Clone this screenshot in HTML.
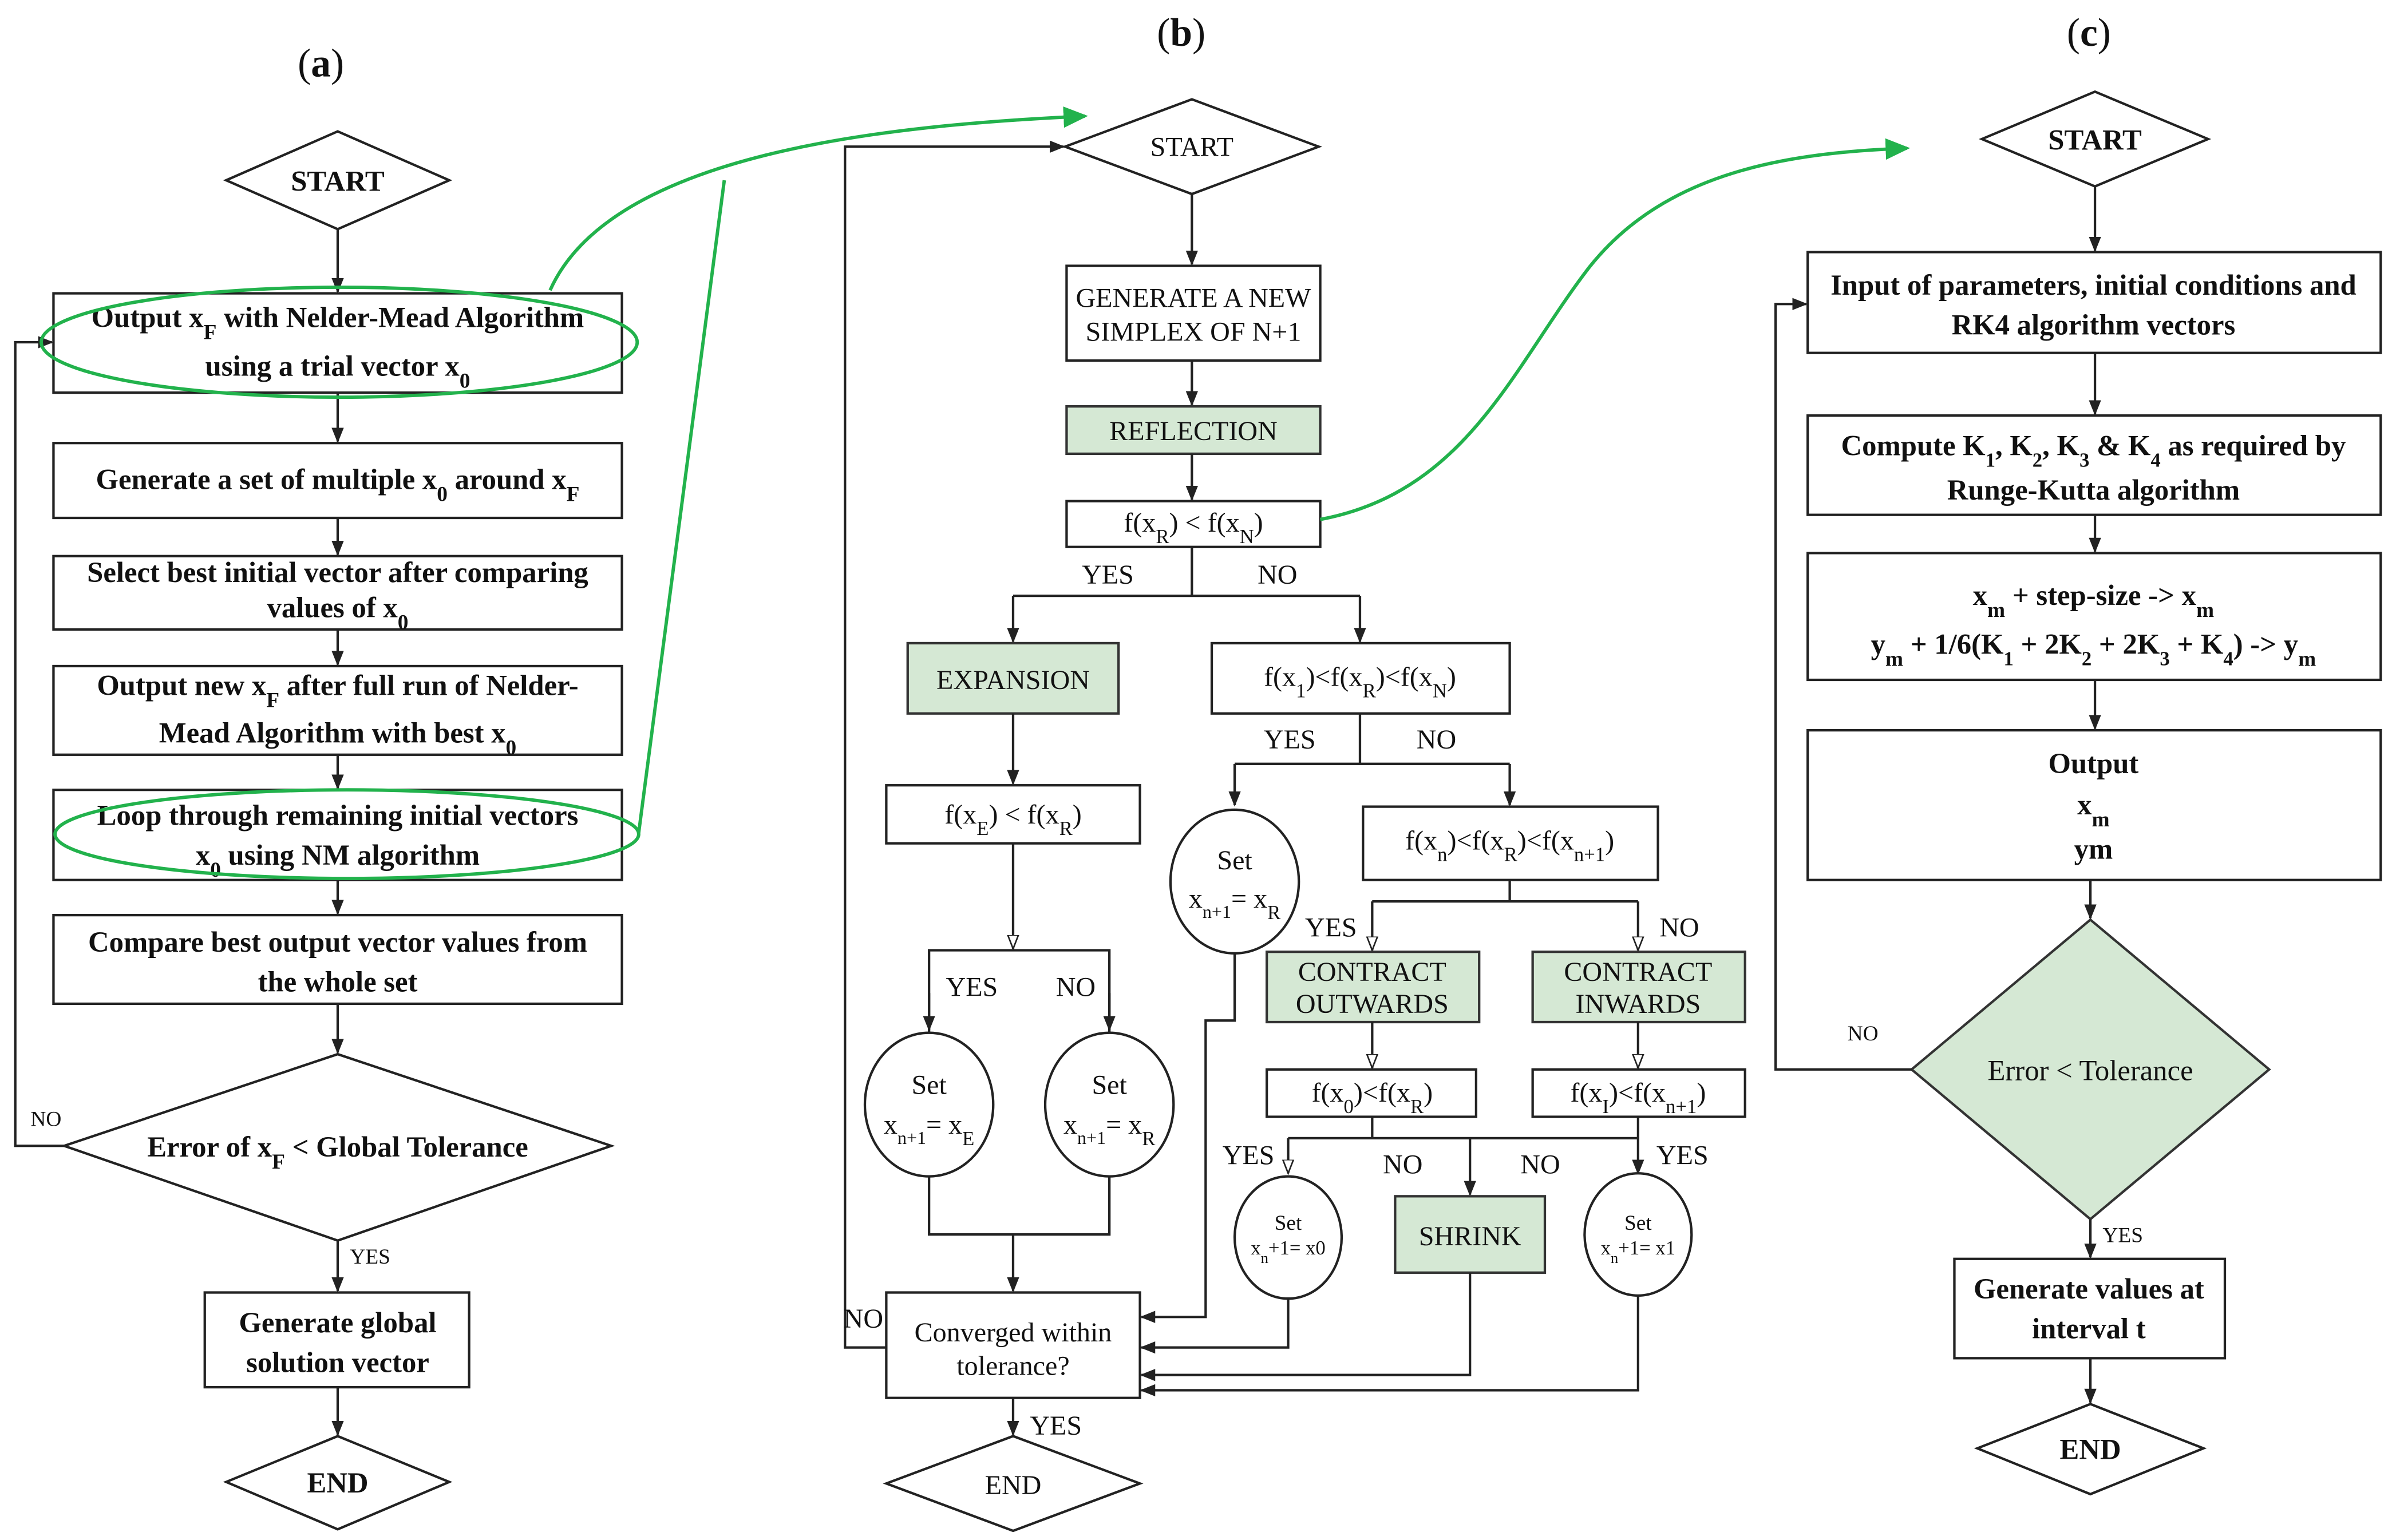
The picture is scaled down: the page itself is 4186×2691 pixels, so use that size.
<!DOCTYPE html>
<html><head><meta charset="utf-8"><style>
html,body{margin:0;padding:0;background:#fff;}
svg{display:block;}
text{font-family:"Liberation Serif",serif;fill:#111;}
.a text{font-weight:bold;font-size:19px;}
.b text{font-size:18px;}
.c text{font-weight:bold;font-size:19px;}
.box{fill:#fff;stroke:#222;stroke-width:1.6;}
.g{fill:#d5e8d4;stroke:#333;stroke-width:1.6;}
.ln{fill:none;stroke:#222;stroke-width:1.6;}
.gr{fill:none;stroke:#22b24c;stroke-width:2.2;}
</style></head><body>
<svg width="4186" height="2691" viewBox="0 0 1568 1008" preserveAspectRatio="none" xmlns="http://www.w3.org/2000/svg">
<defs>
<marker id="ar" markerWidth="10" markerHeight="10" refX="9" refY="5" orient="auto" markerUnits="userSpaceOnUse"><path d="M0,1 L10,5 L0,9 z" fill="#222"/></marker>
<marker id="ho" markerWidth="10" markerHeight="10" refX="9" refY="5" orient="auto" markerUnits="userSpaceOnUse"><path d="M0,1.5 L9,5 L0,8.5 z" fill="#fff" stroke="#222" stroke-width="1"/></marker>
<marker id="ga" markerWidth="16" markerHeight="16" refX="14" refY="8" orient="auto" markerUnits="userSpaceOnUse"><path d="M0,1 L16,8 L0,15 z" fill="#22b24c"/></marker>
</defs>

<!-- Panel a -->
<g class="a">
<text x="210" y="50" text-anchor="middle" style="font-size:26px;font-weight:normal">(<tspan font-weight="bold">a</tspan>)</text>
<polygon class="box" points="148,118 221,86 294,118 221,150"/>
<text x="221" y="125" text-anchor="middle">START</text>
<line class="ln" x1="221" y1="150" x2="221" y2="191" marker-end="url(#ar)"/>
<rect class="box" x="35" y="192" width="372" height="65"/>
<text x="221" y="214" text-anchor="middle">Output x<tspan baseline-shift="sub" font-size="14">F</tspan> with Nelder-Mead Algorithm</text>
<text x="221" y="246" text-anchor="middle">using a trial vector x<tspan baseline-shift="sub" font-size="14">0</tspan></text>
<line class="ln" x1="221" y1="257" x2="221" y2="289" marker-end="url(#ar)"/>
<rect class="box" x="35" y="290" width="372" height="49"/>
<text x="221" y="320" text-anchor="middle">Generate a set of multiple x<tspan baseline-shift="sub" font-size="14">0</tspan> around x<tspan baseline-shift="sub" font-size="14">F</tspan></text>
<line class="ln" x1="221" y1="339" x2="221" y2="363" marker-end="url(#ar)"/>
<rect class="box" x="35" y="364" width="372" height="48"/>
<text x="221" y="381" text-anchor="middle">Select best initial vector after comparing</text>
<text x="221" y="404" text-anchor="middle">values of x<tspan baseline-shift="sub" font-size="14">0</tspan></text>
<line class="ln" x1="221" y1="412" x2="221" y2="435" marker-end="url(#ar)"/>
<rect class="box" x="35" y="436" width="372" height="58"/>
<text x="221" y="455" text-anchor="middle">Output new x<tspan baseline-shift="sub" font-size="14">F</tspan> after full run of Nelder-</text>
<text x="221" y="486" text-anchor="middle">Mead Algorithm with best x<tspan baseline-shift="sub" font-size="14">0</tspan></text>
<line class="ln" x1="221" y1="494" x2="221" y2="516" marker-end="url(#ar)"/>
<rect class="box" x="35" y="517" width="372" height="59"/>
<text x="221" y="540" text-anchor="middle">Loop through remaining initial vectors</text>
<text x="221" y="566" text-anchor="middle">x<tspan baseline-shift="sub" font-size="14">0</tspan> using NM algorithm</text>
<line class="ln" x1="221" y1="576" x2="221" y2="598" marker-end="url(#ar)"/>
<rect class="box" x="35" y="599" width="372" height="58"/>
<text x="221" y="623" text-anchor="middle">Compare best output vector values  from</text>
<text x="221" y="649" text-anchor="middle">the whole set</text>
<line class="ln" x1="221" y1="657" x2="221" y2="689" marker-end="url(#ar)"/>
<polygon class="box" points="42,750 221,690 400,750 221,812"/>
<text x="221" y="757" text-anchor="middle">Error of x<tspan baseline-shift="sub" font-size="14">F</tspan> &lt;  Global Tolerance</text>
<polyline class="ln" points="42,750 10,750 10,224 34,224" marker-end="url(#ar)"/>
<text x="20" y="737" style="font-size:14px;font-weight:normal">NO</text>
<line class="ln" x1="221" y1="812" x2="221" y2="845" marker-end="url(#ar)"/>
<text x="229" y="827" style="font-size:14px;font-weight:normal">YES</text>
<rect class="box" x="134" y="846" width="173" height="62"/>
<text x="221" y="872" text-anchor="middle">Generate global</text>
<text x="221" y="898" text-anchor="middle">solution vector</text>
<line class="ln" x1="221" y1="908" x2="221" y2="939" marker-end="url(#ar)"/>
<polygon class="box" points="148,970 221,940 294,970 221,1001"/>
<text x="221" y="977" text-anchor="middle">END</text>
<ellipse class="gr" cx="222" cy="224" rx="195" ry="36"/>
<ellipse class="gr" cx="227" cy="546" rx="191" ry="29"/>
<path class="gr" d="M360,190 C400,100 580,82 710,76" marker-end="url(#ga)"/>
<line class="gr" x1="418" y1="545" x2="474" y2="118"/>
</g>

<!-- Panel b -->
<g class="b">
<text x="773" y="30" text-anchor="middle" style="font-size:26px">(<tspan font-weight="bold">b</tspan>)</text>
<polygon class="box" points="697,96 780,65 863,96 780,127"/>
<text x="780" y="102" text-anchor="middle">START</text>
<line class="ln" x1="780" y1="127" x2="780" y2="173" marker-end="url(#ar)"/>
<rect class="box" x="698" y="174" width="166" height="62"/>
<text x="781" y="201" text-anchor="middle">GENERATE A NEW</text>
<text x="781" y="223" text-anchor="middle">SIMPLEX OF N+1</text>
<line class="ln" x1="780" y1="236" x2="780" y2="265" marker-end="url(#ar)"/>
<rect class="g" x="698" y="266" width="166" height="31"/>
<text x="781" y="288" text-anchor="middle">REFLECTION</text>
<line class="ln" x1="780" y1="297" x2="780" y2="327" marker-end="url(#ar)"/>
<rect class="box" x="698" y="328" width="166" height="30"/>
<text x="781" y="348" text-anchor="middle">f(x<tspan baseline-shift="sub" font-size="13">R</tspan>) &lt; f(x<tspan baseline-shift="sub" font-size="13">N</tspan>)</text>
<polyline class="ln" points="780,358 780,390"/>
<line class="ln" x1="663" y1="390" x2="890" y2="390"/>
<line class="ln" x1="663" y1="390" x2="663" y2="420" marker-end="url(#ar)"/>
<line class="ln" x1="890" y1="390" x2="890" y2="420" marker-end="url(#ar)"/>
<text x="708" y="382">YES</text><text x="823" y="382">NO</text>
<rect class="g" x="594" y="421" width="138" height="46"/>
<text x="663" y="451" text-anchor="middle">EXPANSION</text>
<rect class="box" x="793" y="421" width="195" height="46"/>
<text x="890" y="449" text-anchor="middle">f(x<tspan baseline-shift="sub" font-size="13">1</tspan>)&lt;f(x<tspan baseline-shift="sub" font-size="13">R</tspan>)&lt;f(x<tspan baseline-shift="sub" font-size="13">N</tspan>)</text>
<line class="ln" x1="663" y1="467" x2="663" y2="513" marker-end="url(#ar)"/>
<rect class="box" x="580" y="514" width="166" height="38"/>
<text x="663" y="539" text-anchor="middle">f(x<tspan baseline-shift="sub" font-size="13">E</tspan>) &lt; f(x<tspan baseline-shift="sub" font-size="13">R</tspan>)</text>
<line class="ln" x1="663" y1="552" x2="663" y2="621" marker-end="url(#ho)"/>
<polyline class="ln" points="608,677 608,622 726,622 726,677"/>
<line class="ln" x1="608" y1="650" x2="608" y2="674" marker-end="url(#ar)"/>
<line class="ln" x1="726" y1="650" x2="726" y2="674" marker-end="url(#ar)"/>
<text x="619" y="652">YES</text><text x="691" y="652">NO</text>
<ellipse class="box" cx="608" cy="723" rx="42" ry="47"/>
<text x="608" y="716" text-anchor="middle">Set</text>
<text x="608" y="742" text-anchor="middle">x<tspan baseline-shift="sub" font-size="12">n+1</tspan>= x<tspan baseline-shift="sub" font-size="13">E</tspan></text>
<ellipse class="box" cx="726" cy="723" rx="42" ry="47"/>
<text x="726" y="716" text-anchor="middle">Set</text>
<text x="726" y="742" text-anchor="middle">x<tspan baseline-shift="sub" font-size="12">n+1</tspan>= x<tspan baseline-shift="sub" font-size="13">R</tspan></text>
<polyline class="ln" points="608,770 608,808 726,808 726,770"/>
<line class="ln" x1="663" y1="808" x2="663" y2="845" marker-end="url(#ar)"/>
<rect class="box" x="580" y="846" width="166" height="69"/>
<text x="663" y="878" text-anchor="middle">Converged within</text>
<text x="663" y="900" text-anchor="middle">tolerance?</text>
<line class="ln" x1="663" y1="915" x2="663" y2="939" marker-end="url(#ar)"/>
<text x="674" y="939">YES</text>
<polygon class="box" points="580,971 663,940 746,971 663,1002"/>
<text x="663" y="978" text-anchor="middle">END</text>
<polyline class="ln" points="580,882 553,882 553,96 696,96" marker-end="url(#ar)"/>
<text x="552" y="869">NO</text>
<polyline class="ln" points="890,467 890,500"/>
<line class="ln" x1="808" y1="500" x2="988" y2="500"/>
<line class="ln" x1="808" y1="500" x2="808" y2="527" marker-end="url(#ar)"/>
<line class="ln" x1="988" y1="500" x2="988" y2="527" marker-end="url(#ar)"/>
<text x="827" y="490">YES</text><text x="927" y="490">NO</text>
<ellipse class="box" cx="808" cy="577" rx="42" ry="47"/>
<text x="808" y="569" text-anchor="middle">Set</text>
<text x="808" y="594" text-anchor="middle">x<tspan baseline-shift="sub" font-size="12">n+1</tspan>= x<tspan baseline-shift="sub" font-size="13">R</tspan></text>
<polyline class="ln" points="808,624 808,668 789,668 789,862 747,862" marker-end="url(#ar)"/>
<rect class="box" x="892" y="528" width="193" height="48"/>
<text x="988" y="556" text-anchor="middle">f(x<tspan baseline-shift="sub" font-size="13">n</tspan>)&lt;f(x<tspan baseline-shift="sub" font-size="13">R</tspan>)&lt;f(x<tspan baseline-shift="sub" font-size="13">n+1</tspan>)</text>
<polyline class="ln" points="988,576 988,590"/>
<line class="ln" x1="898" y1="590" x2="1072" y2="590"/>
<line class="ln" x1="898" y1="590" x2="898" y2="622" marker-end="url(#ho)"/>
<line class="ln" x1="1072" y1="590" x2="1072" y2="622" marker-end="url(#ho)"/>
<text x="854" y="613">YES</text><text x="1086" y="613">NO</text>
<rect class="g" x="829" y="623" width="139" height="46"/>
<text x="898" y="642" text-anchor="middle">CONTRACT</text>
<text x="898" y="663" text-anchor="middle">OUTWARDS</text>
<rect class="g" x="1003" y="623" width="139" height="46"/>
<text x="1072" y="642" text-anchor="middle">CONTRACT</text>
<text x="1072" y="663" text-anchor="middle">INWARDS</text>
<line class="ln" x1="898" y1="669" x2="898" y2="699" marker-end="url(#ho)"/>
<line class="ln" x1="1072" y1="669" x2="1072" y2="699" marker-end="url(#ho)"/>
<rect class="box" x="829" y="700" width="137" height="31"/>
<text x="898" y="721" text-anchor="middle">f(x<tspan baseline-shift="sub" font-size="13">0</tspan>)&lt;f(x<tspan baseline-shift="sub" font-size="13">R</tspan>)</text>
<rect class="box" x="1003" y="700" width="139" height="31"/>
<text x="1072" y="721" text-anchor="middle">f(x<tspan baseline-shift="sub" font-size="13">I</tspan>)&lt;f(x<tspan baseline-shift="sub" font-size="13">n+1</tspan>)</text>
<line class="ln" x1="898" y1="731" x2="898" y2="745"/>
<line class="ln" x1="843" y1="745" x2="1072" y2="745"/>
<line class="ln" x1="1072" y1="731" x2="1072" y2="768" marker-end="url(#ar)"/>
<line class="ln" x1="843" y1="745" x2="843" y2="768" marker-end="url(#ho)"/>
<line class="ln" x1="962" y1="745" x2="962" y2="782" marker-end="url(#ar)"/>
<text x="800" y="762">YES</text><text x="905" y="768">NO</text><text x="995" y="768">NO</text><text x="1084" y="762">YES</text>
<ellipse class="box" cx="843" cy="810" rx="35" ry="40"/>
<text x="843" y="805" text-anchor="middle" style="font-size:14px">Set</text>
<text x="843" y="821" text-anchor="middle" style="font-size:13px">x<tspan baseline-shift="sub" font-size="10">n</tspan>+1= x0</text>
<rect class="g" x="913" y="783" width="98" height="50"/>
<text x="962" y="815" text-anchor="middle">SHRINK</text>
<ellipse class="box" cx="1072" cy="808" rx="35" ry="40"/>
<text x="1072" y="805" text-anchor="middle" style="font-size:14px">Set</text>
<text x="1072" y="821" text-anchor="middle" style="font-size:13px">x<tspan baseline-shift="sub" font-size="10">n</tspan>+1= x1</text>
<polyline class="ln" points="843,850 843,882 747,882" marker-end="url(#ar)"/>
<polyline class="ln" points="962,833 962,900 747,900" marker-end="url(#ar)"/>
<polyline class="ln" points="1072,848 1072,910 747,910" marker-end="url(#ar)"/>
<path class="gr" d="M864,340 C960,322 990,240 1040,175 C1090,112 1170,100 1248,97" marker-end="url(#ga)"/>
</g>

<!-- Panel c -->
<g class="c">
<text x="1367" y="30" text-anchor="middle" style="font-size:26px;font-weight:normal">(<tspan font-weight="bold">c</tspan>)</text>
<polygon class="box" points="1297,91 1371,60 1445,91 1371,122"/>
<text x="1371" y="98" text-anchor="middle">START</text>
<line class="ln" x1="1371" y1="122" x2="1371" y2="164" marker-end="url(#ar)"/>
<rect class="box" x="1183" y="165" width="375" height="66"/>
<text x="1370" y="193" text-anchor="middle">Input of parameters, initial conditions and</text>
<text x="1370" y="219" text-anchor="middle">RK4 algorithm vectors</text>
<line class="ln" x1="1371" y1="231" x2="1371" y2="271" marker-end="url(#ar)"/>
<rect class="box" x="1183" y="272" width="375" height="65"/>
<text x="1370" y="298" text-anchor="middle">Compute K<tspan baseline-shift="sub" font-size="13">1</tspan>, K<tspan baseline-shift="sub" font-size="13">2</tspan>, K<tspan baseline-shift="sub" font-size="13">3</tspan> &amp; K<tspan baseline-shift="sub" font-size="13">4</tspan> as required by</text>
<text x="1370" y="327" text-anchor="middle">Runge-Kutta algorithm</text>
<line class="ln" x1="1371" y1="337" x2="1371" y2="361" marker-end="url(#ar)"/>
<rect class="box" x="1183" y="362" width="375" height="83"/>
<text x="1370" y="396" text-anchor="middle">x<tspan baseline-shift="sub" font-size="14">m</tspan> + step-size -&gt; x<tspan baseline-shift="sub" font-size="14">m</tspan></text>
<text x="1370" y="428" text-anchor="middle">y<tspan baseline-shift="sub" font-size="14">m</tspan> + 1/6(K<tspan baseline-shift="sub" font-size="13">1</tspan> + 2K<tspan baseline-shift="sub" font-size="13">2</tspan> + 2K<tspan baseline-shift="sub" font-size="13">3</tspan> + K<tspan baseline-shift="sub" font-size="13">4</tspan>) -&gt; y<tspan baseline-shift="sub" font-size="14">m</tspan></text>
<line class="ln" x1="1371" y1="445" x2="1371" y2="477" marker-end="url(#ar)"/>
<rect class="box" x="1183" y="478" width="375" height="98"/>
<text x="1370" y="506" text-anchor="middle">Output</text>
<text x="1370" y="533" text-anchor="middle">x<tspan baseline-shift="sub" font-size="14">m</tspan></text>
<text x="1370" y="562" text-anchor="middle">ym</text>
<line class="ln" x1="1368" y1="576" x2="1368" y2="601" marker-end="url(#ar)"/>
<polygon class="g" points="1251,700 1368,602 1485,700 1368,798"/>
<text x="1368" y="707" text-anchor="middle" style="font-weight:normal">Error  &lt;  Tolerance</text>
<polyline class="ln" points="1251,700 1162,700 1162,199 1182,199" marker-end="url(#ar)"/>
<text x="1209" y="681" style="font-size:14px;font-weight:normal">NO</text>
<line class="ln" x1="1368" y1="798" x2="1368" y2="823" marker-end="url(#ar)"/>
<text x="1376" y="813" style="font-size:14px;font-weight:normal">YES</text>
<rect class="box" x="1279" y="824" width="177" height="65"/>
<text x="1367" y="850" text-anchor="middle">Generate values at</text>
<text x="1367" y="876" text-anchor="middle">interval t</text>
<line class="ln" x1="1368" y1="889" x2="1368" y2="918" marker-end="url(#ar)"/>
<polygon class="box" points="1294,948 1368,919 1442,948 1368,978"/>
<text x="1368" y="955" text-anchor="middle">END</text>
</g>
</svg>
</body></html>
